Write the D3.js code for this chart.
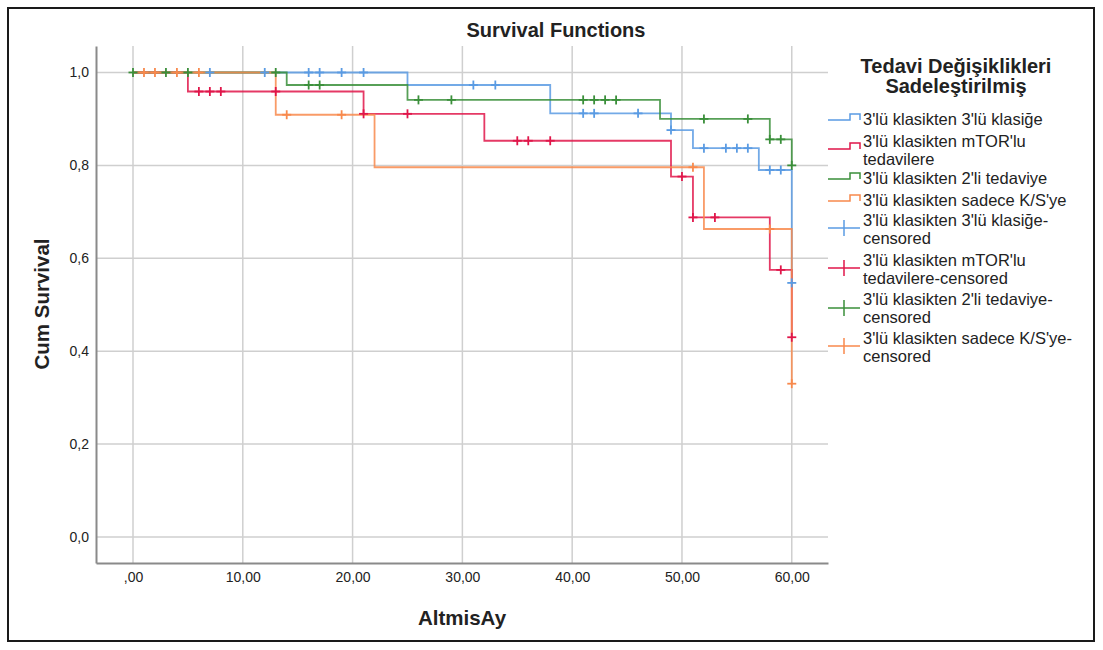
<!DOCTYPE html>
<html>
<head>
<meta charset="utf-8">
<script src="https://cdn.jsdelivr.net/npm/d3@7"></script>
<style>
  body { margin: 0; background: #fff; }
  text { font-family: "Liberation Sans", Arial, sans-serif; fill: #222; }
</style>
</head>
<body>
<div id="chart"></div>
<script>
// group names (legend order)
var groupNames = [
  "3'lü klasikten 3'lü klasiğe",
  "3'lü klasikten mTOR'lu tedavilere",
  "3'lü klasikten 2'li tedaviye",
  "3'lü klasikten sadece K/S'ye"
];
var groupColors = ["#5a9be3", "#e0164a", "#3a8f3a", "#f8894c"];

// step times and survival levels after each step
var klasigeTimes = [0, 25, 38, 49, 51, 57, 60];
var klasigeSurv = [1.0, 0.973, 0.912, 0.876, 0.837, 0.790, 0.547];
var klasigeCens = [7, 12, 16, 17, 19, 21, 31, 33, 41, 42, 46, 49, 52, 54, 55, 56, 58, 59, 60];

var mtorTimes = [0, 5, 21, 32, 49, 51, 58, 60];
var mtorSurv = [1.0, 0.959, 0.911, 0.853, 0.776, 0.688, 0.575, 0.430];
var mtorCens = [6, 7, 8, 13, 21, 25, 35, 36, 38, 50, 51, 53, 59, 60];

var ikiliTimes = [0, 14, 25, 48, 58, 60];
var ikiliSurv = [1.0, 0.973, 0.941, 0.900, 0.856, 0.800];
var ikiliCens = [0, 3, 5, 13, 16, 17, 26, 29, 41, 42, 43, 44, 52, 56, 58, 59, 60];

var ksTimes = [0, 13, 22, 52, 60];
var ksSurv = [1.0, 0.909, 0.796, 0.663, 0.330];
var ksCens = [1, 2, 4, 6, 14, 19, 51, 58, 60];

var xTicks = [0, 10, 20, 30, 40, 50, 60];
var yTicks = [0, 0.2, 0.4, 0.6, 0.8, 1.0];

var groups = [
  { times: klasigeTimes, surv: klasigeSurv, cens: klasigeCens },
  { times: mtorTimes, surv: mtorSurv, cens: mtorCens },
  { times: ikiliTimes, surv: ikiliSurv, cens: ikiliCens },
  { times: ksTimes, surv: ksSurv, cens: ksCens }
];

var W = 1103, H = 650;
var svg = d3.select("#chart").append("svg").attr("width", W).attr("height", H);

// outer frame
svg.append("rect").attr("x", 8).attr("y", 8).attr("width", 1086).attr("height", 633)
  .attr("fill", "none").attr("stroke", "#1a1a1a").attr("stroke-width", 2);

var plotLeft = 96, plotRight = 828, plotTop = 46, plotBottom = 563;
var x = d3.scaleLinear().domain([-3.37, 63.3]).range([plotLeft, plotRight]);
var y = d3.scaleLinear().domain([-0.056, 1.057]).range([plotBottom, plotTop]);

// gridlines
svg.append("g").selectAll("line").data(xTicks).enter().append("line")
  .attr("x1", function (d) { return x(d); }).attr("x2", function (d) { return x(d); })
  .attr("y1", plotTop).attr("y2", plotBottom)
  .attr("stroke", "#cfcfcf").attr("stroke-width", 1.5);
svg.append("g").selectAll("line").data(yTicks).enter().append("line")
  .attr("x1", plotLeft).attr("x2", plotRight)
  .attr("y1", function (d) { return y(d); }).attr("y2", function (d) { return y(d); })
  .attr("stroke", "#cfcfcf").attr("stroke-width", 1.5);

// axes
var fmtX = function (d) { return d === 0 ? ",00" : d3.format(".2f")(d).replace(".", ","); };
var fmtY = function (d) { return d3.format(".1f")(d).replace(".", ","); };

var xAxis = svg.append("g").attr("transform", "translate(0," + plotBottom + ")")
  .call(d3.axisBottom(x).tickValues(xTicks).tickSize(0).tickPadding(9).tickFormat(fmtX));
var yAxis = svg.append("g").attr("transform", "translate(" + plotLeft + ",0)")
  .call(d3.axisLeft(y).tickValues(yTicks).tickSize(0).tickPadding(7).tickFormat(fmtY));
[xAxis, yAxis].forEach(function (a) {
  a.select(".domain").attr("stroke", "#8a8a8a").attr("stroke-width", 2);
  a.selectAll("text").style("font-size", "14px").style("font-family", "Liberation Sans, Arial, sans-serif").attr("fill", "#222");
});

// curves
var stepLine = d3.line().curve(d3.curveStepAfter)
  .x(function (d) { return x(d[0]); }).y(function (d) { return y(d[1]); });

function survAt(g, t) {
  var s = g.surv[0];
  for (var i = 0; i < g.times.length; i++) if (g.times[i] <= t) s = g.surv[i];
  return s;
}

groups.forEach(function (g, i) {
  var pts = g.times.map(function (t, k) { return [t, g.surv[k]]; });
  svg.append("path").datum(pts).attr("d", stepLine)
    .attr("fill", "none").attr("stroke", groupColors[i])
    .attr("stroke-width", 1.8).attr("stroke-opacity", 0.85);
});

groups.forEach(function (g, i) {
  var c = svg.append("g").selectAll("g").data(g.cens).enter().append("g")
    .attr("transform", function (t) { return "translate(" + x(t) + "," + y(survAt(g, t)) + ")"; })
    .attr("stroke", groupColors[i]).attr("stroke-width", 1.8);
  c.append("line").attr("x1", -4.5).attr("x2", 4.5);
  c.append("line").attr("y1", -4.5).attr("y2", 4.5);
});

// titles
svg.append("text").attr("x", 556).attr("y", 37).attr("text-anchor", "middle")
  .style("font-size", "20px").style("font-weight", "bold").text("Survival Functions");
svg.append("text").attr("x", 462).attr("y", 625).attr("text-anchor", "middle")
  .style("font-size", "20.5px").style("font-weight", "bold").text("AltmisAy");
svg.append("text").attr("transform", "translate(49,304) rotate(-90)").attr("text-anchor", "middle")
  .style("font-size", "20.5px").style("font-weight", "bold").text("Cum Survival");

// legend
var lg = svg.append("g");
lg.append("text").attr("x", 956).attr("y", 73).attr("text-anchor", "middle")
  .style("font-size", "20px").style("font-weight", "bold").text("Tedavi Değişiklikleri");
lg.append("text").attr("x", 956).attr("y", 93).attr("text-anchor", "middle")
  .style("font-size", "20px").style("font-weight", "bold").text("Sadeleştirilmiş");

var legendItems = [
  { lines: ["3'lü klasikten 3'lü klasiğe"], g: 0, cens: false, base: 125, sym: 117 },
  { lines: ["3'lü klasikten mTOR'lu", "tedavilere"], g: 1, cens: false, base: 147, sym: 146 },
  { lines: ["3'lü klasikten 2'li tedaviye"], g: 2, cens: false, base: 184, sym: 176 },
  { lines: ["3'lü klasikten sadece K/S'ye"], g: 3, cens: false, base: 206, sym: 198 },
  { lines: ["3'lü klasikten 3'lü klasiğe-", "censored"], g: 0, cens: true, base: 226, sym: 228 },
  { lines: ["3'lü klasikten mTOR'lu", "tedavilere-censored"], g: 1, cens: true, base: 266, sym: 268 },
  { lines: ["3'lü klasikten 2'li tedaviye-", "censored"], g: 2, cens: true, base: 305, sym: 308 },
  { lines: ["3'lü klasikten sadece K/S'ye-", "censored"], g: 3, cens: true, base: 344, sym: 346 }
];

legendItems.forEach(function (it) {
  var col = groupColors[it.g];
  var sy = it.sym;
  if (it.cens) {
    lg.append("line").attr("x1", 828).attr("x2", 860).attr("y1", sy).attr("y2", sy)
      .attr("stroke", col).attr("stroke-width", 1.5);
    lg.append("line").attr("x1", 844).attr("x2", 844).attr("y1", sy - 8).attr("y2", sy + 8)
      .attr("stroke", col).attr("stroke-width", 1.5);
  } else {
    lg.append("path")
      .attr("d", "M828," + (sy + 3) + "H850V" + (sy - 3) + "H860V" + (sy + 3))
      .attr("fill", "none").attr("stroke", col).attr("stroke-width", 1.5);
  }
  it.lines.forEach(function (t, k) {
    lg.append("text").attr("x", 863).attr("y", it.base + k * 17.5)
      .style("font-size", "16.5px").text(t);
  });
});
</script>
</body>
</html>
